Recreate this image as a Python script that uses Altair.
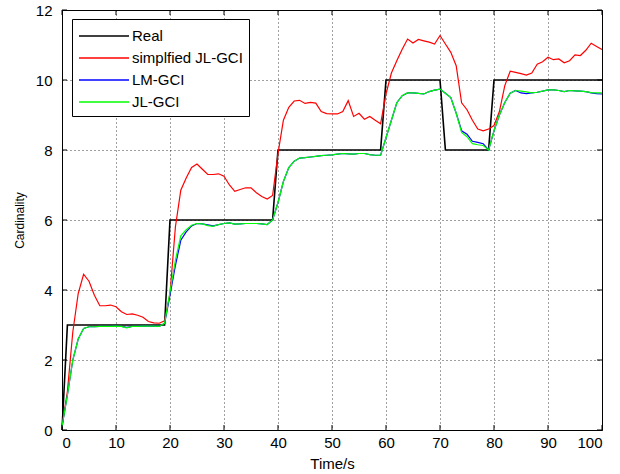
import altair as alt
import pandas as pd

# ---------------- data ----------------
series_names = ["Real", "simplfied JL-GCI", "LM-GCI", "JL-GCI"]
series_colors = ["#000000", "#FF0000", "#0000FF", "#00FF00"]

time = list(range(101))

real_t = [0, 1, 19, 20, 39, 40, 59, 60, 70, 71, 79, 80, 100]
real_y = [0, 3, 3, 6, 6, 8, 8, 10, 10, 8, 8, 10, 10]

red = [0.1, 1.1, 2.8, 3.9, 4.45, 4.25, 3.85, 3.55, 3.55, 3.57,
       3.52, 3.38, 3.3, 3.32, 3.28, 3.22, 3.1, 3.06, 3.05, 3.12,
       3.9, 5.8, 6.85, 7.2, 7.5, 7.6, 7.45, 7.3, 7.3, 7.32,
       7.25, 7.0, 6.82, 6.87, 6.92, 6.92, 6.78, 6.67, 6.6, 6.7,
       7.9, 8.85, 9.22, 9.4, 9.42, 9.33, 9.36, 9.34, 9.1, 9.04,
       9.03, 9.03, 9.1, 9.41, 8.96, 9.05, 8.88, 8.96, 8.85, 8.75,
       9.6, 10.2, 10.55, 10.88, 11.17, 11.06, 11.16, 11.12, 11.08, 11.03,
       11.27, 11.03, 10.79, 10.41, 9.35, 9.15, 8.85, 8.6, 8.55, 8.6,
       8.7, 9.1, 9.84, 10.25, 10.22, 10.18, 10.14, 10.2, 10.45, 10.52,
       10.65, 10.58, 10.6, 10.49, 10.55, 10.72, 10.7, 10.85, 11.05, 10.96,
       10.87]

green = [0.1, 1.0, 2.0, 2.6, 2.9, 2.95, 2.95, 2.96, 2.96, 2.96,
         2.97, 2.96, 2.92, 2.96, 2.96, 2.97, 2.97, 2.97, 2.96, 3.05,
         3.95, 4.85, 5.55, 5.72, 5.85, 5.9, 5.89, 5.84, 5.82, 5.87,
         5.9, 5.92, 5.88, 5.89, 5.9, 5.9, 5.9, 5.89, 5.87, 6.0,
         6.5, 7.1, 7.5, 7.68, 7.77, 7.78, 7.8, 7.82, 7.84, 7.85,
         7.86, 7.88, 7.9, 7.89, 7.88, 7.9, 7.9, 7.87, 7.85, 7.85,
         8.35, 8.85, 9.35, 9.55, 9.63, 9.63, 9.62, 9.6, 9.67, 9.71,
         9.74, 9.62, 9.5, 9.05, 8.5, 8.38, 8.18, 8.15, 8.13, 8.0,
         8.55, 9.0, 9.36, 9.62, 9.7, 9.68, 9.66, 9.63, 9.65, 9.68,
         9.72, 9.72, 9.7, 9.67, 9.7, 9.69, 9.68, 9.67, 9.64, 9.63,
         9.63]

blue = [0.1, 1.0, 2.0, 2.6, 2.9, 2.95, 2.95, 2.96, 2.96, 2.96,
        2.97, 2.96, 2.93, 2.96, 2.96, 2.97, 2.97, 2.97, 2.96, 3.05,
        3.85, 4.7, 5.42, 5.66, 5.83, 5.9, 5.89, 5.86, 5.83, 5.87,
        5.9, 5.92, 5.88, 5.89, 5.9, 5.9, 5.9, 5.89, 5.87, 6.0,
        6.5, 7.1, 7.5, 7.68, 7.77, 7.78, 7.8, 7.82, 7.84, 7.85,
        7.86, 7.88, 7.9, 7.89, 7.88, 7.9, 7.9, 7.87, 7.85, 7.85,
        8.35, 8.85, 9.35, 9.55, 9.63, 9.63, 9.62, 9.6, 9.67, 9.71,
        9.74, 9.62, 9.5, 9.05, 8.55, 8.45, 8.25, 8.22, 8.18, 8.0,
        8.55, 9.0, 9.36, 9.62, 9.7, 9.63, 9.61, 9.63, 9.65, 9.68,
        9.72, 9.72, 9.7, 9.67, 9.7, 9.69, 9.68, 9.67, 9.63, 9.61,
        9.6]

x_ticks = list(range(0, 101, 10))
y_ticks = list(range(0, 13, 2))

# ---------------- tables ----------------
rows = []
for tt, yy in zip(real_t, real_y):
    rows.append({"series": series_names[0], "t": tt, "v": yy})
for name, vals in zip(series_names[1:], [red, blue, green]):
    for tt, yy in zip(time, vals):
        rows.append({"series": name, "t": tt, "v": yy})
df = pd.DataFrame(rows)

xs = alt.Scale(domain=[0, 100], nice=False, zero=False)
ys = alt.Scale(domain=[0, 12], nice=False, zero=False)
cs = alt.Scale(domain=series_names, range=series_colors)

legend = alt.Legend(
    title=None, orient="none", legendX=10, legendY=9,
    strokeColor="black", fillColor="white", padding=6,
    symbolType="M-2.5,0H2.5", symbolSize=400, symbolStrokeWidth=1.5,
    symbolOffset=15, labelOffset=17,
    labelFont="Liberation Sans", labelFontSize=15, labelColor="black",
    rowPadding=3, labelLimit=300,
)

layers = []
for name, w in zip(series_names, [1.6, 1.2, 1.2, 1.2]):
    layers.append(
        alt.Chart(df[df.series == name]).mark_line(strokeWidth=w).encode(
            x=alt.X("t:Q", scale=xs,
                    axis=alt.Axis(values=x_ticks, title="Time/s", labelPadding=5, titlePadding=6)),
            y=alt.Y("v:Q", scale=ys,
                    axis=alt.Axis(values=y_ticks, title="Cardinality", labelPadding=10,
                                  titlePadding=9, titleFontSize=12)),
            color=alt.Color("series:N", scale=cs, sort=series_names, legend=legend),
        )
    )

# inward tick marks (MATLAB style)
xt = pd.DataFrame({"t": x_ticks})
yt = pd.DataFrame({"v": y_ticks})
tick_bottom = alt.Chart(xt).mark_rule(color="black").encode(
    x=alt.X("t:Q", scale=xs), y=alt.value(420), y2=alt.value(415))
tick_top = alt.Chart(xt).mark_rule(color="black").encode(
    x=alt.X("t:Q", scale=xs), y=alt.value(0), y2=alt.value(5))
tick_left = alt.Chart(yt).mark_rule(color="black").encode(
    y=alt.Y("v:Q", scale=ys), x=alt.value(0), x2=alt.value(5))
tick_right = alt.Chart(yt).mark_rule(color="black").encode(
    y=alt.Y("v:Q", scale=ys), x=alt.value(540), x2=alt.value(535))

chart = alt.layer(*layers, tick_bottom, tick_top, tick_left, tick_right).properties(
    width=540, height=420,
    autosize=alt.AutoSizeParams(type="none"),
    padding={"left": 62, "top": 10, "right": 18, "bottom": 44},
    background="white",
).configure_axis(
    grid=True, gridColor="black", gridDash=[1, 3], gridOpacity=0.75,
    domainColor="black", ticks=False,
    labelColor="black", labelFont="Liberation Sans", labelFontSize=15,
    titleColor="black", titleFont="Liberation Sans", titleFontSize=15,
    titleFontWeight="normal",
).configure_view(stroke="black", strokeWidth=1)

chart.save("out.html", embed_options={"renderer": "svg", "actions": False})
